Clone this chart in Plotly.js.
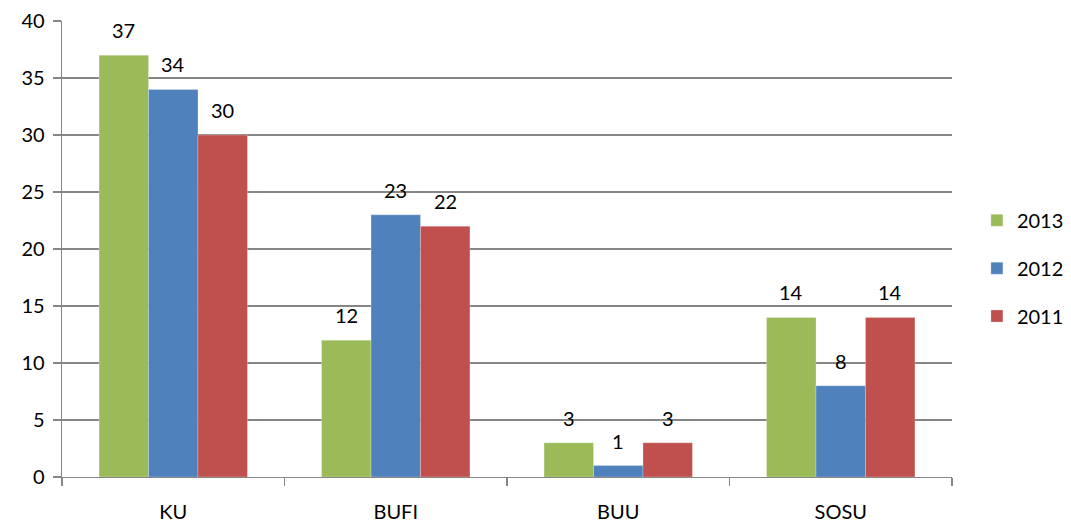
<!DOCTYPE html>
<html>
<head>
<meta charset="utf-8">
<script src="https://cdn.plot.ly/plotly-3.0.1.min.js"></script>
<style>html,body{margin:0;padding:0;background:#fff;}#chart{width:1071px;height:525px;}</style>
</head>
<body>
<div id="chart"></div>
<script>
const categories = ["KU", "BUFI", "BUU", "SOSU"];
const seriesNames = ["2013", "2012", "2011"];
const values2013 = [37, 12, 3, 14];
const values2012 = [34, 23, 1, 8];
const values2011 = [30, 22, 3, 14];
const yTicks = [0, 5, 10, 15, 20, 25, 30, 35, 40];

const colors = ["#9BBB59", "#4F81BD", "#C0504D"];
const allValues = [values2013, values2012, values2011];
const FONT = "Lato, 'Open Sans', sans-serif";
const FS = 20;

const traces = allValues.map((vals, i) => ({
  type: "bar",
  name: seriesNames[i],
  x: categories,
  y: vals,
  marker: {color: colors[i], line: {color: "rgba(255,255,255,0.5)", width: 0.5}},
  legend: i === 0 ? "legend" : ("legend" + (i + 1)),
  showlegend: true,
  hoverinfo: "none"
}));

const barPx = 49.5;
const annotations = [];
allValues.forEach((vals, i) => {
  vals.forEach((v, j) => {
    annotations.push({
      x: categories[j], y: v, xref: "x", yref: "y",
      text: String(v), showarrow: false,
      xshift: (i - 1) * barPx, yshift: 25,
      font: {family: FONT, size: FS, color: "#000"}
    });
  });
});

const legendBase = {
  xref: "paper", x: 1.028, xanchor: "left", yanchor: "middle",
  font: {family: FONT, size: FS, color: "#000"},
  bgcolor: "rgba(0,0,0,0)", itemwidth: 30
};

const layout = {
  width: 1071, height: 525,
  margin: {l: 62, r: 119, t: 21, b: 48, autoexpand: false},
  paper_bgcolor: "#fff", plot_bgcolor: "#fff",
  barmode: "group",
  bargap: 0.333, bargroupgap: 0,
  font: {family: FONT, size: FS, color: "#000"},
  xaxis: {
    type: "category",
    showline: true, linecolor: "#868686", linewidth: 1.3,
    ticks: "outside", tickson: "boundaries", ticklen: 8, tickcolor: "#868686", tickwidth: 1.3,
    ticklabelstandoff: 17,
    showgrid: false, zeroline: false,
    tickfont: {family: FONT, size: FS, color: "#000"},
    fixedrange: true
  },
  yaxis: {
    range: [0, 40], tickvals: yTicks, ticktext: yTicks.map(String),
    showline: true, linecolor: "#868686", linewidth: 1.3,
    ticks: "outside", ticklen: 8, tickcolor: "#868686", tickwidth: 1.3,
    showgrid: true, gridcolor: "#868686", gridwidth: 1.3,
    zeroline: false,
    ticklabelstandoff: 4,
    tickfont: {family: FONT, size: FS, color: "#000"},
    fixedrange: true
  },
  legend: Object.assign({}, legendBase, {y: 0.563}),
  legend2: Object.assign({}, legendBase, {y: 0.458}),
  legend3: Object.assign({}, legendBase, {y: 0.353}),
  annotations: annotations,
  showlegend: true
};

Plotly.newPlot("chart", traces, layout, {displayModeBar: false, staticPlot: true});
</script>
</body>
</html>
